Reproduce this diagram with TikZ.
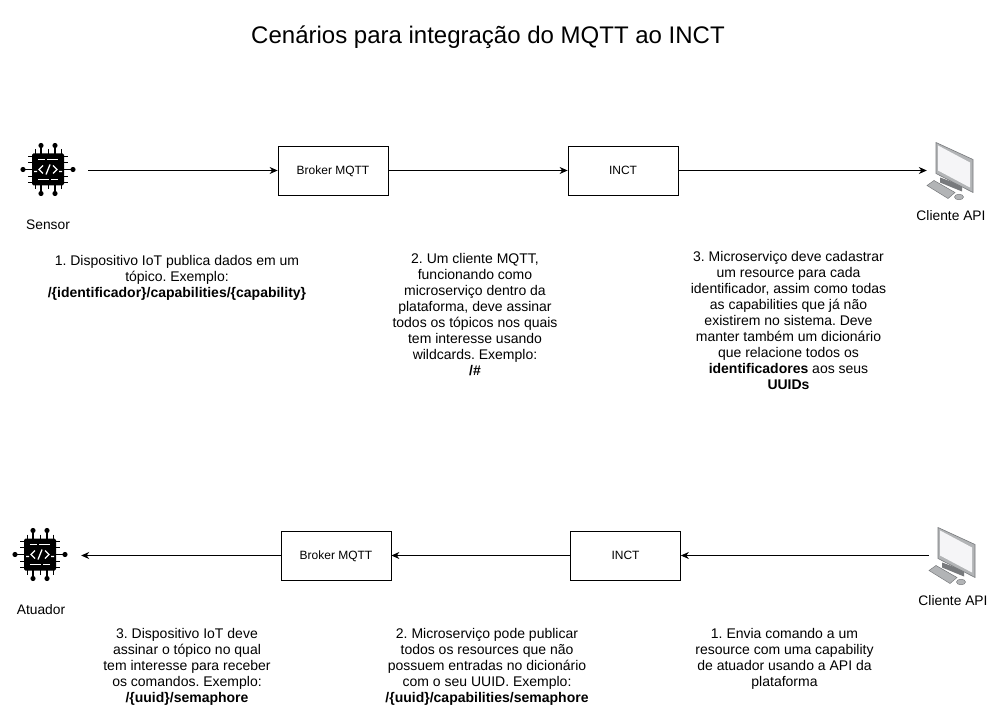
\documentclass[tikz,border=0pt]{standalone}
\usepackage{fontspec}
\setmainfont{Liberation Sans}
\frenchspacing
\usetikzlibrary{positioning,arrows.meta}
\definecolor{screenfill}{RGB}{245,245,247}
\definecolor{casegray}{RGB}{178,180,182}
\definecolor{casedark}{RGB}{120,122,125}
\tikzset{
  blockbox/.style={draw,line width=.8pt,minimum width=110pt,minimum height=49pt,inner sep=0pt,
    font=\fontsize{12}{15}\selectfont,text height=8.6pt,text depth=0pt},
  iconbox/.style={inner sep=0pt,minimum height=50pt},
  iconlabel/.style={font=\fontsize{13.8}{16}\selectfont},
  note/.style={align=center,inner sep=0pt,font=\fontsize{14}{16}\selectfont},
  flow/.style={-{Stealth[length=8pt,width=7pt]},line width=.8pt},
  chip/.pic={
    \foreach \i in {-7,7}{
      \draw[line width=1.3pt](\i,-24)--(\i,24);
      \fill(\i,-24)circle(2.6);\fill(\i,24)circle(2.6);
    }
    \draw[line width=1.3pt](-25,0)--(25,0);
    \fill(-25,0)circle(2.6);\fill(25,0)circle(2.6);
    \foreach \i in {-13,0,13}{\draw[line width=1pt](\i,-20)--(\i,20);}
    \foreach \i in {-13,-7,7,13}{\draw[line width=1pt](-20,\i)--(20,\i);}
    \fill[rounded corners=1.5pt](-16,-16)rectangle(16,16);
    \draw[white,line width=1.3pt](-10,-10)--(-3,-10)(-1,-10)--(10,-10)(-10,10)--(1,10)(3,10)--(10,10);
    \draw[white,line width=1.3pt](-5,-4)--(-9,0)--(-5,4)(5,-4)--(9,0)--(5,4)(-2,5)--(2,-5)(-14,2)--(-11,2)(11,2)--(14,2);
  },
  pc/.pic={
    \fill[casedark](-5,7)--(17,15)--(17,21)--(-5,12)--cycle;
    \fill[casegray](-9,-28)--(28,-11)--(28,22)--(-9,3)--cycle;
    \draw[casedark,line width=.6pt](-9,-28)--(28,-11)--(28,22)--(-9,3)--cycle;
    \fill[screenfill](-7,-25)--(25,-8)--(25,17)--(-7,0)--cycle;
    \fill[casegray,draw=casedark,line width=.5pt](-18,15)--(-11,10)--(10,22)--(3,28)--cycle;
    \fill[casegray,draw=casedark,line width=.5pt](14,26.5)ellipse(4.5 and 2.8);
  }
}
\begin{document}
\begin{tikzpicture}[x=1pt,y=-1pt]
\useasboundingbox(0,0)rectangle(989,706);
\node[font=\fontsize{24}{28}\selectfont] (title) at (488,37.5) {Cenários para integração do MQTT ao INCT};
% first row
\node[iconbox,minimum width=80pt] (sensor) at (48,170.5) {};
\pic at (48,169.5) {chip};
\node[blockbox] (brokertop) at (333,170.5) {Broker MQTT};
\node[blockbox] (incttop) at (623,170.5) {INCT};
\node[iconbox,minimum width=36pt] (clienttop) at (945,170.5) {};
\pic at (clienttop) {pc};
\draw[flow](sensor)--(brokertop);
\draw[flow](brokertop)--(incttop);
\draw[flow](incttop)--(clienttop);
\node[iconlabel] (sensorlabel) at (48,225) {Sensor};
\node[iconlabel] (clienttoplabel) at (951,216) {Cliente API};
\node[note,anchor=north] (notea) at (177,255) {1. Dispositivo IoT publica dados em um\\tópico. Exemplo:\\\textbf{/\{identificador\}/capabilities/\{capability\}}};
\node[note,anchor=north] (noteb) at (475,253) {2. Um cliente MQTT,\\funcionando como\\microserviço dentro da\\plataforma, deve assinar\\todos os tópicos nos quais\\tem interesse usando\\wildcards. Exemplo:\\\textbf{/\#}};
\node[note,anchor=north] (notec) at (788.5,251) {3. Microserviço deve cadastrar\\um resource para cada\\identificador, assim como todas\\as capabilities que já não\\existirem no sistema. Deve\\manter também um dicionário\\que relacione todos os\\\textbf{identificadores} aos seus\\\textbf{UUIDs}};
% second row
\node[iconbox,minimum width=82pt] (actuator) at (40,555.5) {};
\pic at (40,554.5) {chip};
\node[blockbox] (brokerbottom) at (336,555.5) {Broker MQTT};
\node[blockbox] (inctbottom) at (625.5,555.5) {INCT};
\node[iconbox,minimum width=36pt] (clientbottom) at (947,555.5) {};
\pic at (clientbottom) {pc};
\draw[flow](clientbottom)--(inctbottom);
\draw[flow](inctbottom)--(brokerbottom);
\draw[flow](brokerbottom)--(actuator);
\node[iconlabel] (actuatorlabel) at (41,610) {Atuador};
\node[iconlabel] (clientbottomlabel) at (953,601) {Cliente API};
\node[note,anchor=north] (noted) at (187,628) {3. Dispositivo IoT deve\\assinar o tópico no qual\\tem interesse para receber\\os comandos. Exemplo:\\\textbf{/\{uuid\}/semaphore}};
\node[note,anchor=north] (notee) at (487,628) {2. Microserviço pode publicar\\todos os resources que não\\possuem entradas no dicionário\\com o seu UUID. Exemplo:\\\textbf{/\{uuid\}/capabilities/semaphore}};
\node[note,anchor=north] (notef) at (784.5,628) {1. Envia comando a um\\resource com uma capability\\de atuador usando a API da\\plataforma};
\end{tikzpicture}
\end{document}
